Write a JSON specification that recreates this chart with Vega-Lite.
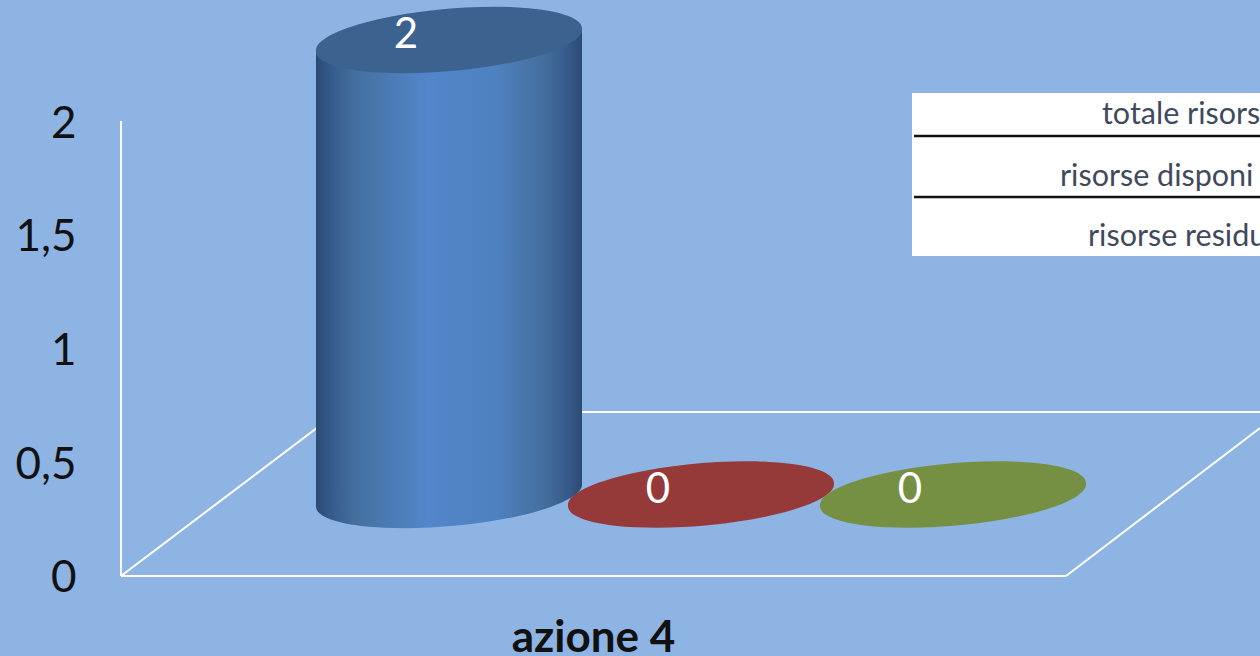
{"$schema":"https://vega.github.io/schema/vega-lite/v6.json","width":1260,"height":656,"padding":0,"autosize":"none","background":"#8EB4E3","view":{"stroke":null,"fill":null},"config":{"font":"Lato"},
"datasets":{
"serie":[{"serie":"totale risorse","valore":2,"cx":449,"cap":2.356,"base":0.356},{"serie":"risorse disponibili","valore":0,"cx":701,"cap":0.358,"base":0.358},{"serie":"risorse residue","valore":0,"cx":953,"cap":0.358,"base":0.358}],
"corpo":[{"x":316,"alto":2.3077,"basso":0.3077},{"x":582,"alto":2.4044,"basso":0.4044}],
"griglia":[{"x":121,"x2":121,"y":2,"y2":0},{"x":121,"x2":1066,"y":0,"y2":0},{"x":121,"x2":338,"y":0,"y2":0.7209},{"x":338,"x2":1260,"y":0.7209,"y2":0.7209},{"x":1066,"x2":1260,"y":0,"y2":0.6505}],
"tabella":[{"x":912,"x2":1260,"y":2.123,"y2":1.4066}],
"separatori":[{"x":914,"x2":1260,"y":1.934},{"x":914,"x2":1260,"y":1.666}],
"righe":[{"testo":"totale risors","x":1102,"y":2.027},{"testo":"risorse disponi","x":1060,"y":1.752},{"testo":"risorse residu","x":1088,"y":1.492}]
},
"layer":[
{"data":{"name":"griglia"},"mark":{"type":"rule","color":"#FFFFFF","strokeWidth":2},"encoding":{
"x":{"field":"x","type":"quantitative","scale":{"domain":[0,1260],"nice":false,"zero":false},"axis":{"values":[593],"labelExpr":"'azione 4'","orient":"bottom","offset":-18,"title":null,"domain":false,"ticks":false,"grid":false,"labelPadding":0,"labelBaseline":"middle","labelFontSize":44,"labelFontWeight":"bold","labelColor":"#111111","labelFont":"Lato","labelBound":false,"labelFlush":false,"labelOverlap":false}},
"x2":{"field":"x2"},
"y":{"field":"y","type":"quantitative","scale":{"domain":[-0.35165,2.53187],"nice":false,"zero":false},"axis":{"values":[0,0.5,1,1.5,2],"format":"~g","labelExpr":"replace(datum.label,'.',',')","offset":-76,"title":null,"domain":false,"ticks":false,"grid":false,"labelPadding":0,"labelOffset":3,"labelBaseline":"middle","labelFontSize":44,"labelColor":"#111111","labelFont":"Lato","labelBound":false,"labelFlush":false,"labelOverlap":false}},
"y2":{"field":"y2"}}},
{"data":{"name":"tabella"},"mark":{"type":"rect","fill":"#FFFFFF"},"encoding":{"x":{"field":"x","type":"quantitative"},"x2":{"field":"x2"},"y":{"field":"y","type":"quantitative"},"y2":{"field":"y2"}}},
{"data":{"name":"separatori"},"mark":{"type":"rule","color":"#111111","strokeWidth":2.5},"encoding":{"x":{"field":"x","type":"quantitative"},"x2":{"field":"x2"},"y":{"field":"y","type":"quantitative"}}},
{"data":{"name":"righe"},"mark":{"type":"text","align":"left","baseline":"middle","fontSize":30.5,"color":"#3F4A5C","font":"Lato"},"encoding":{"x":{"field":"x","type":"quantitative"},"y":{"field":"y","type":"quantitative"},"text":{"field":"testo"}}},
{"data":{"name":"corpo"},"mark":{"type":"area","opacity":1,"fill":{"gradient":"linear","x1":0,"x2":1,"y1":0,"y2":0,"stops":[{"offset":0,"color":"#2A4A72"},{"offset":0.05,"color":"#34598A"},{"offset":0.15,"color":"#44709F"},{"offset":0.3,"color":"#4C7DB8"},{"offset":0.42,"color":"#5386CA"},{"offset":0.68,"color":"#4E81BF"},{"offset":0.85,"color":"#456F9F"},{"offset":0.95,"color":"#36598A"},{"offset":1,"color":"#2A4A70"}]}},"encoding":{"x":{"field":"x","type":"quantitative"},"y":{"field":"alto","type":"quantitative"},"y2":{"field":"basso"}}},
{"data":{"name":"serie"},"transform":[{"filter":"datum.valore > 0"}],"mark":{"type":"point","filled":true,"opacity":1,"size":71289,"shape":"M-0.996,0.087 A1,0.229,-5,1,1,0.996,-0.087 A1,0.229,-5,1,1,-0.996,0.087 Z","fill":{"gradient":"linear","x1":0,"x2":1,"y1":0,"y2":0,"stops":[{"offset":0,"color":"#2A4A72"},{"offset":0.05,"color":"#34598A"},{"offset":0.15,"color":"#44709F"},{"offset":0.3,"color":"#4C7DB8"},{"offset":0.42,"color":"#5386CA"},{"offset":0.68,"color":"#4E81BF"},{"offset":0.85,"color":"#456F9F"},{"offset":0.95,"color":"#36598A"},{"offset":1,"color":"#2A4A70"}]}},"encoding":{"x":{"field":"cx","type":"quantitative"},"y":{"field":"base","type":"quantitative"}}},
{"data":{"name":"serie"},"mark":{"type":"point","filled":true,"opacity":1,"size":71289,"shape":"M-0.996,0.087 A1,0.229,-5,1,1,0.996,-0.087 A1,0.229,-5,1,1,-0.996,0.087 Z"},"encoding":{"x":{"field":"cx","type":"quantitative"},"y":{"field":"cap","type":"quantitative"},"color":{"field":"serie","type":"nominal","legend":null,"scale":{"domain":["totale risorse","risorse disponibili","risorse residue"],"range":["#3C638F","#953A39","#769043"]}}}},
{"data":{"name":"serie"},"mark":{"type":"text","dx":-43,"dy":-5,"align":"center","baseline":"middle","fontSize":42,"color":"#FFFFFF","font":"Lato"},"encoding":{"x":{"field":"cx","type":"quantitative"},"y":{"field":"cap","type":"quantitative"},"text":{"field":"valore","type":"quantitative"}}}
]}
